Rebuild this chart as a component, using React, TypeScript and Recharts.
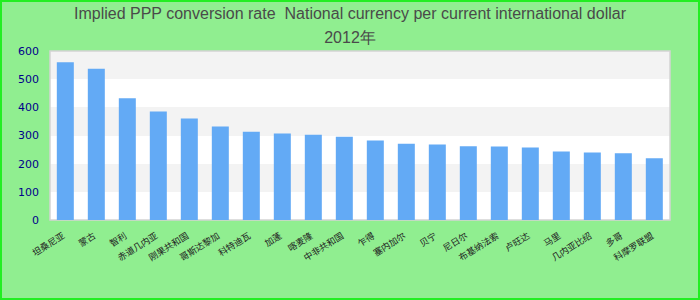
import { BarChart, Bar, XAxis, YAxis, CartesianGrid, ReferenceArea } from 'recharts'

const countries = [
  '坦桑尼亚', '蒙古', '智利', '赤道几内亚', '刚果共和国', '哥斯达黎加', '科特迪瓦', '加蓬', '喀麦隆', '中非共和国',
  '乍得', '塞内加尔', '贝宁', '尼日尔', '布基纳法索', '卢旺达', '马里', '几内亚比绍', '多哥', '科摩罗联盟',
]
const pppRate = [560, 537, 432, 385, 360, 332, 313, 307, 303, 296, 282, 271, 268, 262, 261, 257, 243, 240, 237, 219]
const yTicks = [0, 100, 200, 300, 400, 500, 600]

const data = countries.map((name, i) => ({ name, value: pppRate[i] }))

const CountryTick = (props: any) => {
  const { x, y, payload } = props
  return (
    <g transform={`translate(${x},${y})`}>
      <text
        x={-5}
        y={0}
        dy={8}
        textAnchor="end"
        fontSize={9}
        fill="#222"
        fontFamily="'Noto Sans CJK SC', sans-serif"
        transform="rotate(-32)"
      >
        {payload.value}
      </text>
    </g>
  )
}

export default function App() {
  return (
    <div
      style={{
        position: 'absolute', left: 0, top: 0, width: 700, height: 300,
        background: '#90ee90', border: '2px solid #22ee22', boxSizing: 'border-box',
      }}
    >
      <div
        style={{
          position: 'absolute', left: 0, top: 0, width: 696, textAlign: 'center', whiteSpace: 'pre',
          fontFamily: "'Liberation Sans', Arial, sans-serif", fontSize: 16, color: '#4a4a4a', lineHeight: '24px',
        }}
      >
        {'Implied PPP conversion rate  National currency per current international dollar'}
        <br />
        2012年
      </div>
      <div style={{ position: 'absolute', left: -2, top: -2 }}>
        <BarChart width={700} height={300} data={data} margin={{ top: 51, right: 30, bottom: 20, left: 0 }} barCategoryGap="22%">
          <CartesianGrid vertical={false} horizontal stroke="none" horizontalFill={['#f3f3f3', '#ffffff']} />
          <ReferenceArea y1={0} y2={600} fill="none" stroke="#d3d3d3" strokeWidth={1.5} ifOverflow="visible" />
          <XAxis dataKey="name" interval={0} height={60} axisLine={false} tickLine={false} tick={<CountryTick />} />
          <YAxis
            domain={[0, 600]}
            ticks={yTicks}
            width={50}
            axisLine={false}
            tickLine={false}
            tickMargin={5}
            tick={{ fill: '#00008b', fontSize: 11, fontFamily: "'DejaVu Sans', sans-serif" }}
          />
          <Bar dataKey="value" fill="#63aaf5" isAnimationActive={false} />
        </BarChart>
      </div>
    </div>
  )
}
